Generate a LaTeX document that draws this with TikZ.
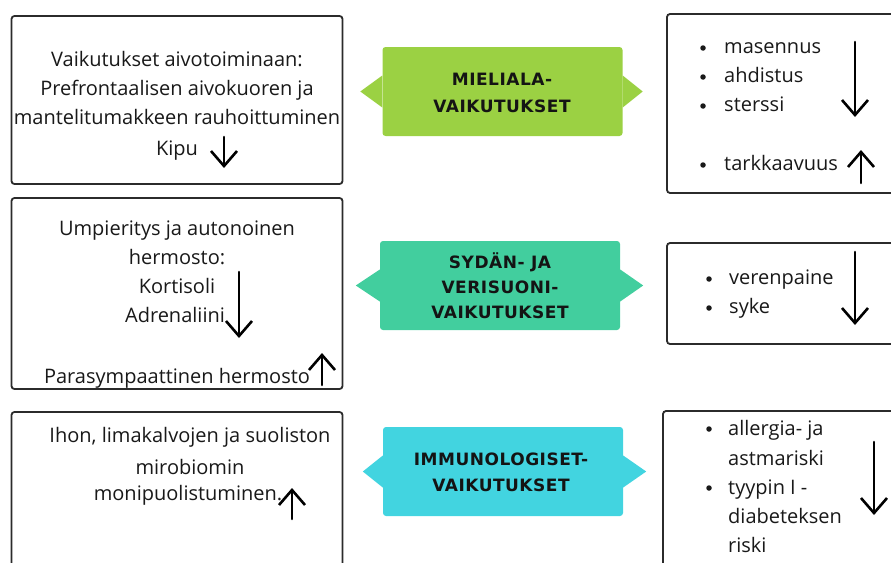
\documentclass[tikz,border=0pt]{standalone}
\usepackage{fontspec}
\setmainfont{Open Sans}
\newfontfamily\kylttifont[LetterSpace=3]{DejaVu Sans}
\usepackage{tikz}
\usepackage{xcolor}
\usetikzlibrary{arrows.meta,calc,positioning}

\definecolor{reuna}{HTML}{2B2B2B}
\definecolor{lime}{HTML}{9BD143}
\definecolor{turkoosi}{HTML}{42CE9E}
\definecolor{syaani}{HTML}{42D4E0}

\tikzset{
  laatikko/.style={draw=reuna, line width=1.8pt, rounded corners=3pt, fill=white},
  kyltti/.style={rounded corners=3pt, minimum width=240pt, minimum height=89pt},
  otsikko/.style={anchor=base, inner sep=0pt, text=black!92, font=\kylttifont\bfseries\fontsize{17}{20}\selectfont},
  rivi/.style={anchor=base, inner sep=0pt, text=black!90, font=\fontsize{20}{24}\selectfont},
  pallo/.style={fill=black!90, circle, inner sep=0pt, minimum size=5.5pt},
  nuoli/.style={line width=2.6pt, line cap=round, -{Straight Barb[length=15pt,width=26pt,line width=2.6pt]}},
}

\begin{document}
\begin{tikzpicture}[x=1pt, y=-1pt]
\useasboundingbox (0,0) rectangle (891,562);
\clip (0,0) rectangle (891,562);

% Vasemmat laatikot
\node[laatikko, minimum width=331pt, minimum height=168pt] (aivot) at (177,100) {};
\node[rivi] (aivot1) at (177,66) {Vaikutukset aivotoiminaan:};
\node[rivi] (aivot2) at (177,95) {Prefrontaalisen aivokuoren ja};
\node[rivi] (aivot3) at (177,124) {mantelitumakkeen rauhoittuminen};
\node[rivi] (aivot4) at (177,155) {Kipu};
\draw[nuoli] (224,137) -- (224,168);

\node[laatikko, minimum width=331pt, minimum height=191pt] (hermo) at (177,293.5) {};
\node[rivi] (hermo1) at (177,235) {Umpieritys ja autonoinen};
\node[rivi] (hermo2) at (177,264) {hermosto:};
\node[rivi] (hermo3) at (177,293) {Kortisoli};
\node[rivi] (hermo4) at (175,322) {Adrenaliini};
\node[rivi] (hermo5) at (177,383) {Parasympaattinen hermosto};
\draw[nuoli] (239,272) -- (239,338);
\draw[nuoli] (322,385) -- (322,353);

\node[laatikko, minimum width=331pt, minimum height=170pt] (iho) at (177,497) {};
\node[rivi] (iho1) at (190,442) {Ihon, limakalvojen ja suoliston};
\node[rivi] (iho2) at (190,474) {mirobiomin};
\node[rivi] (iho3) at (188,500) {monipuolistuminen.};
\draw[nuoli] (292,519) -- (292,488);

% Kyltit
\node[kyltti, fill=lime] (mieli) at (502.5,91.5) {};
\fill[lime] ($(mieli.west)+(0,16)$) -- ++(-22,-16) -- ++(22,-16) -- cycle;
\fill[lime] ($(mieli.east)+(0,16)$) -- ++(20,-16) -- ++(-20,-16) -- cycle;
\node[otsikko] (mieli1) at (502,85) {MIELIALA-};
\node[otsikko] (mieli2) at (502,112) {VAIKUTUKSET};

\node[kyltti, fill=turkoosi] (sydan) at (500,285.5) {};
\fill[turkoosi] ($(sydan.west)+(0,16)$) -- ++(-24,-16) -- ++(24,-16) -- cycle;
\fill[turkoosi] ($(sydan.east)+(0,16)$) -- ++(23,-16) -- ++(-23,-16) -- cycle;
\node[otsikko] (sydan1) at (500,268) {SYDÄN- JA};
\node[otsikko] (sydan2) at (500,293) {VERISUONI-};
\node[otsikko] (sydan3) at (500,318) {VAIKUTUKSET};

\node[kyltti, fill=syaani] (immuno) at (503,471.5) {};
\fill[syaani] ($(immuno.west)+(0,16)$) -- ++(-20,-16) -- ++(20,-16) -- cycle;
\fill[syaani] ($(immuno.east)+(0,16)$) -- ++(23,-16) -- ++(-23,-16) -- cycle;
\node[otsikko] (immuno1) at (501,465) {IMMUNOLOGISET-};
\node[otsikko] (immuno2) at (501,491) {VAIKUTUKSET};

% Oikeat laatikot
\node[laatikko, minimum width=250pt, minimum height=179pt] (oire) at (792,103.5) {};
\node[pallo] (p1) at (703,48) {};
\node[rivi, anchor=base west] (oire1) at (724,53) {masennus};
\node[pallo] (p2) at (703,77) {};
\node[rivi, anchor=base west] (oire2) at (724,82) {ahdistus};
\node[pallo] (p3) at (703,106) {};
\node[rivi, anchor=base west] (oire3) at (724,111) {sterssi};
\node[pallo] (p4) at (703,165) {};
\node[rivi, anchor=base west] (oire4) at (724,170) {tarkkaavuus};
\draw[nuoli] (855,42) -- (855,117);
\draw[nuoli] (861,183) -- (861,150);

\node[laatikko, minimum width=250pt, minimum height=101pt] (paine) at (792,293.5) {};
\node[pallo] (p5) at (709,279) {};
\node[rivi, anchor=base west] (paine1) at (729,284) {verenpaine};
\node[pallo] (p6) at (709,308) {};
\node[rivi, anchor=base west] (paine2) at (729,313) {syke};
\draw[nuoli] (855,252) -- (855,325);

\node[laatikko, minimum width=254pt, minimum height=170pt] (riski) at (790,496) {};
\node[pallo] (p7) at (709,429) {};
\node[rivi, anchor=base west] (riski1) at (728,435) {allergia- ja};
\node[rivi, anchor=base west] (riski2) at (728,465) {astmariski};
\node[pallo] (p8) at (709,488) {};
\node[rivi, anchor=base west] (riski3) at (728,494) {tyypin I -};
\node[rivi, anchor=base west] (riski4) at (728,523) {diabeteksen};
\node[rivi, anchor=base west] (riski5) at (728,552) {riski};
\draw[nuoli] (874,442) -- (874,515);
\end{tikzpicture}
\end{document}
